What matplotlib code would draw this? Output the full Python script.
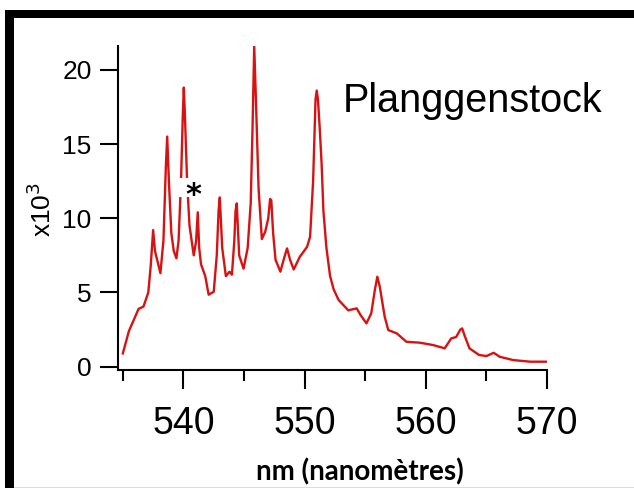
import matplotlib
matplotlib.use("Agg")
from matplotlib import pyplot as plt
from matplotlib.patches import Rectangle
from matplotlib.ticker import MultipleLocator

# spectrum (nm, counts x10^3)
wavelength = [535.0, 535.5, 536.3, 536.7, 537.1, 537.3, 537.5, 537.65, 537.8, 538.1,
              538.35, 538.55, 538.66, 538.8, 539.0, 539.2, 539.42, 539.6, 539.8, 539.95,
              540.03, 540.12, 540.3, 540.5, 540.85, 541.05, 541.18, 541.3, 541.45, 541.8,
              542.08, 542.5, 542.75, 542.9, 543.0, 543.2, 543.5, 543.8, 544.0, 544.2,
              544.3, 544.4, 544.6, 544.96, 545.3, 545.55, 545.7, 545.84, 545.98, 546.2,
              546.47, 546.75, 547.0, 547.15, 547.25, 547.4, 547.6, 548.0, 548.3, 548.55,
              548.8, 549.1, 549.6, 550.2, 550.45, 550.7, 550.9, 551.0, 551.1, 551.25,
              551.4, 551.55, 551.8, 552.1, 552.4, 552.8, 553.6, 554.3, 554.6, 555.1,
              555.5, 555.8, 556.0, 556.2, 556.6, 556.9, 557.6, 558.4, 559.5, 560.6,
              561.56, 562.1, 562.5, 562.85, 563.0, 563.2, 563.6, 564.4, 565.0, 565.6,
              566.1, 567.2, 568.6, 569.9]
intensity = [0.9, 2.4, 3.9, 4.05, 5.0, 6.8, 9.2, 7.8, 7.3, 6.3,
             8.5, 13.5, 15.5, 12.5, 9.0, 7.8, 7.3, 8.5, 12.5, 17.0,
             18.8, 17.0, 12.5, 9.5, 7.5, 8.5, 10.4, 8.0, 6.9, 6.1,
             4.85, 5.05, 7.5, 10.5, 11.4, 8.0, 6.1, 6.4, 6.2, 8.5,
             10.5, 11.0, 7.5, 6.6, 8.0, 11.0, 16.0, 21.6, 18.0, 12.0,
             8.6, 9.1, 10.0, 11.3, 11.2, 9.0, 7.2, 6.4, 7.3, 7.97,
             7.2, 6.55, 7.4, 8.07, 8.75, 12.5, 18.0, 18.6, 18.0, 16.0,
             13.7, 10.5, 8.0, 6.1, 5.2, 4.5, 3.8, 3.93, 3.5, 2.92,
             3.6, 5.2, 6.06, 5.4, 3.4, 2.47, 2.25, 1.68, 1.62, 1.46,
             1.24, 1.91, 2.0, 2.5, 2.58, 2.1, 1.24, 0.79, 0.72, 0.94,
             0.67, 0.45, 0.34, 0.34]

plt.rcParams['font.family'] = ['Liberation Sans', 'DejaVu Sans']

fig = plt.figure(figsize=(6.34, 4.88), dpi=100)
ax = fig.add_axes([118/634, 1 - 370/488, 429/634, 324/488])

# the spectrum
ax.plot(wavelength, intensity, color='#d81212', linewidth=1.7)

ax.set_xlim(534.6, 570)
ax.set_ylim(-0.22, 21.6)

ax.spines['top'].set_visible(False)
ax.spines['right'].set_visible(False)
ax.spines['left'].set_linewidth(1.5)
ax.spines['bottom'].set_linewidth(1.5)

ax.xaxis.set_major_locator(MultipleLocator(10))
ax.xaxis.set_minor_locator(MultipleLocator(5))
ax.yaxis.set_major_locator(MultipleLocator(5))
ax.tick_params(axis='x', which='major', length=14, width=1.5, labelsize=27, pad=12)
ax.tick_params(axis='x', which='minor', length=8, width=1.5)
ax.tick_params(axis='y', which='major', length=13, width=1.5, labelsize=19, pad=6)

# asterisk marking a line, on a white patch that cuts the curve
ax.add_patch(Rectangle((539.6, 11.4), 2.0, 1.3, facecolor='white', edgecolor='none', zorder=3))
ax.text(540.85, 11.55, '*', fontsize=22, fontweight='bold', ha='center', va='center',
        family='DejaVu Sans', zorder=4)

# sample name
fig.text(343/634, 1 - 112/488, 'Planggenstock', fontsize=28.5, ha='left', va='baseline')

# axis labels
fig.text(42/634, 1 - 209/488, 'x10$^3$', fontsize=19, rotation=90, ha='center', va='center')
fig.text(360/634, 1 - 472/488, 'nm (nanomètres)', fontsize=20, fontweight='bold',
         family='Lato', ha='center', va='center')

# black frame like the slide border
fig.patches.append(Rectangle((5/634, 0), 9/634, 478/488, transform=fig.transFigure,
                             facecolor='black', edgecolor='none'))
fig.patches.append(Rectangle((5/634, 1 - 18/488), 629/634, 8/488, transform=fig.transFigure,
                             facecolor='black', edgecolor='none'))
fig.patches.append(Rectangle((14/634, 0), 620/634, 1.5/488, transform=fig.transFigure,
                             facecolor='#dddddd', edgecolor='none'))

fig.savefig('out.png', dpi=100)
